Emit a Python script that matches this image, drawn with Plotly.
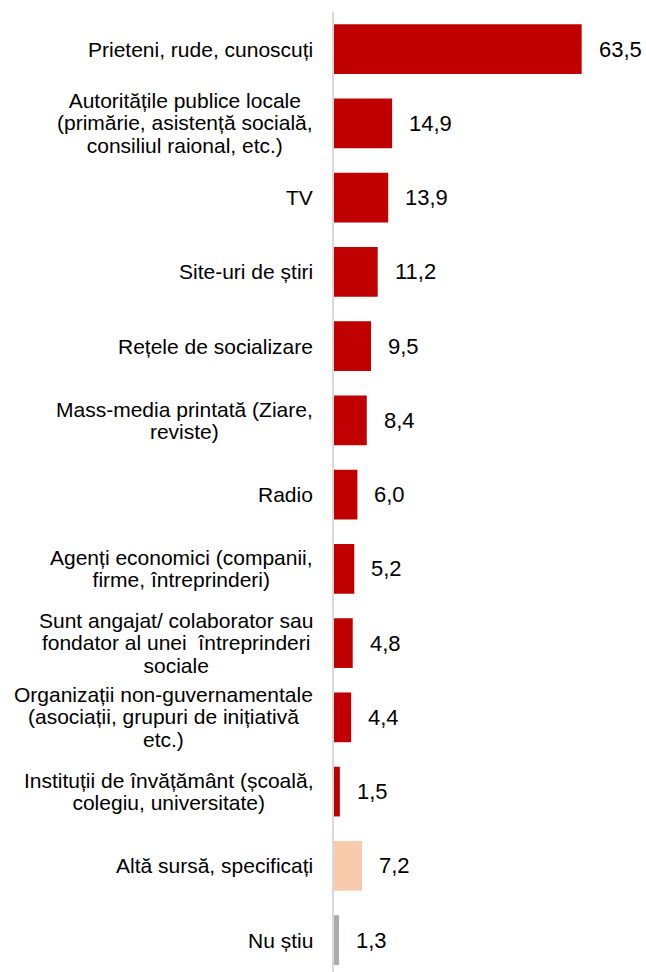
import plotly.graph_objects as go

# Information sources (share of respondents, %)
categories = [
    "Prieteni, rude, cunoscuți",
    "Autoritățile publice locale<br>(primărie, asistență socială,<br>consiliul raional, etc.)",
    "TV",
    "Site-uri de știri",
    "Rețele de socializare",
    "Mass-media printată (Ziare,<br>reviste)",
    "Radio",
    "Agenți economici (companii,<br>firme, întreprinderi)",
    "Sunt angajat/ colaborator sau<br>fondator al unei  întreprinderi<br>sociale",
    "Organizații non-guvernamentale<br>(asociații, grupuri de inițiativă<br>etc.)",
    "Instituții de învățământ (școală,<br>colegiu, universitate)",
    "Altă sursă, specificați",
    "Nu știu",
]
values = [63.5, 14.9, 13.9, 11.2, 9.5, 8.4, 6.0, 5.2, 4.8, 4.4, 1.5, 7.2, 1.3]

RED = "#C00000"
PEACH = "#F8CBAD"
GREY = "#AFABAB"
colors = [RED] * 11 + [PEACH, GREY]

FONT = "Liberation Sans, Arial, sans-serif"
LABEL_PX = 21      # glyph size of the category labels
LINE_BASE = 17.3   # base size that sets the spacing between wrapped lines


def styled(label):
    # keep tight line spacing while drawing the glyphs at LABEL_PX
    lines = label.split("<br>")
    return "<br>".join(
        f'<span style="font-size:{LABEL_PX}px">{ln}</span>' for ln in lines
    )


fig = go.Figure(
    go.Bar(
        x=values,
        y=categories,
        orientation="h",
        marker=dict(color=colors, line=dict(width=0)),
        width=0.67,
        hoverinfo="skip",
    )
)

annotations = []
for cat, val in zip(categories, values):
    # category label, block right-aligned next to the axis, lines centred
    annotations.append(dict(
        xref="paper", x=0, xanchor="right", xshift=-19,
        yref="y", y=cat, yanchor="middle",
        text=styled(cat), align="center", showarrow=False,
        font=dict(family=FONT, size=LINE_BASE, color="#000000"),
    ))
    # value label just past the end of the bar
    annotations.append(dict(
        xref="x", x=val, xanchor="left", xshift=15,
        yref="y", y=cat, yanchor="middle",
        text=f"{val:.1f}".replace(".", ","), showarrow=False,
        font=dict(family=FONT, size=22, color="#000000"),
    ))

fig.update_layout(
    width=646,
    height=972,
    margin=dict(l=334, r=0, t=12, b=0, autoexpand=False),
    paper_bgcolor="white",
    plot_bgcolor="white",
    showlegend=False,
    annotations=annotations,
    font=dict(family=FONT),
    xaxis=dict(
        range=[0, 80], visible=False, showgrid=False, zeroline=False,
        fixedrange=True,
    ),
    yaxis=dict(
        type="category",
        categoryorder="array",
        categoryarray=categories,
        range=[12.43, -0.5],
        showticklabels=False,
        ticks="",
        showgrid=False,
        zeroline=False,
        showline=True,
        linecolor="#D9D9D9",
        linewidth=2,
        fixedrange=True,
    ),
)

fig.write_html("out.html", config={"displayModeBar": False})
